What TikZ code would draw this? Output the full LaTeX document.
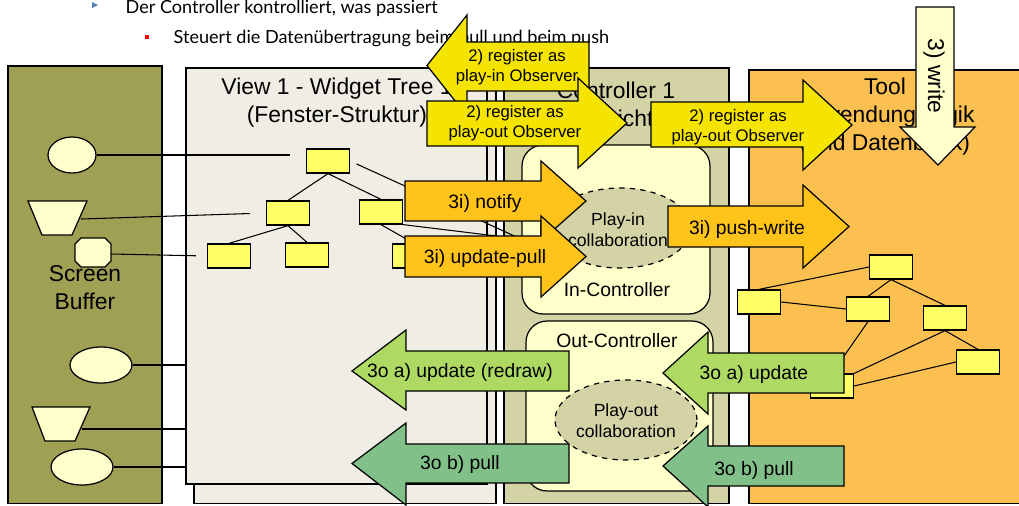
\documentclass[tikz,border=0pt]{standalone}
\usepackage{fontspec}
\setmainfont{Liberation Sans}
\newfontfamily\latofont{Lato}
\usetikzlibrary{shapes.geometric}

\definecolor{screenolive}{RGB}{160,160,85}
\definecolor{viewbeige}{RGB}{240,237,228}
\definecolor{ctrlolive}{RGB}{212,211,166}
\definecolor{paleyellow}{RGB}{255,255,204}
\definecolor{toolorange}{RGB}{251,192,80}
\definecolor{widgetyellow}{RGB}{255,255,102}
\definecolor{regyellow}{RGB}{245,227,0}
\definecolor{pushorange}{RGB}{255,195,26}
\definecolor{updgreen}{RGB}{174,218,100}
\definecolor{pullgreen}{RGB}{130,192,138}
\definecolor{bulletblue}{RGB}{79,129,189}

\begin{document}
\begin{tikzpicture}[x=0.02cm,y=-0.02cm,line width=0.7pt,
    widget/.style={draw,fill=widgetyellow,minimum width=0.86cm,minimum height=0.48cm,inner sep=0pt},
    sbshape/.style={draw,fill=paleyellow,inner sep=0pt},
    collab/.style={draw,dashed,fill=ctrlolive,ellipse,minimum width=2.84cm,minimum height=1.6cm,inner sep=0pt},
    subctrl/.style={draw,fill=paleyellow,rounded corners=0.42cm,inner sep=0pt},
    treeline/.style={line width=0.6pt},
    regarrow/.style={draw,fill=regyellow},
    pusharrow/.style={draw,fill=pushorange},
    updarrow/.style={draw,fill=updgreen},
    pullarrow/.style={draw,fill=pullgreen},
    writearrow/.style={draw,fill=paleyellow},
    titletext/.style={font=\fontsize{13pt}{15.9pt}\selectfont,align=center,inner sep=0pt},
    arrowtext/.style={font=\fontsize{11pt}{13pt}\selectfont,align=center,inner sep=0pt},
    regtext/.style={font=\fontsize{9.5pt}{11.3pt}\selectfont,align=center,inner sep=0pt},
    collabtext/.style={font=\fontsize{10pt}{11.9pt}\selectfont,align=center,inner sep=0pt},
    bullettext/.style={font=\latofont\fontsize{10.3pt}{12pt}\selectfont,anchor=base west,inner sep=0pt}]
\useasboundingbox (0,0) rectangle (1019,505);

% bullets
\fill[bulletblue] (92,2) -- (98,5) -- (92,8) -- cycle; % bullet.1
\node[bullettext] (bulletA) at (125,13) {Der Controller kontrolliert, was passiert};
\fill[red] (145,35) rectangle (149,39); % bullet.2
\node[bullettext] (bulletB) at (173,43) {Steuert die Datenübertragung beim pull und beim push};

% screen buffer
\draw[fill=screenolive] (8,66) rectangle (162,503.5); % Screen
\node[titletext] (scrtitle) at (85,288) {Screen\\Buffer};
\node[sbshape,ellipse,minimum width=0.96cm,minimum height=0.72cm] (scrA) at (72,155) {};
\draw[fill=paleyellow] (28,201) -- (87,201) -- (72,235) -- (42,235) -- cycle; % scrB
\coordinate (scrB) at (81,219);
\draw[fill=paleyellow] (81,238) -- (105,238) -- (111,244) -- (111,261) -- (105,267) -- (81,267) -- (75,261) -- (75,244) -- cycle; % scrC
\coordinate (scrC) at (111,254);
\node[sbshape,ellipse,minimum width=1.24cm,minimum height=0.72cm] (scrD) at (101,365) {};
\draw[fill=paleyellow] (32,407) -- (90,407) -- (75,441) -- (45,441) -- cycle; % scrE
\coordinate (scrE) at (82,429);
\node[sbshape,ellipse,minimum width=1.24cm,minimum height=0.72cm] (scrF) at (82,467) {};

% view panels
\draw[fill=viewbeige] (194,90) rectangle (496,503.5); % View.back
\draw[fill=viewbeige] (186,68) rectangle (487,484); % View.front
\coordinate (viewedge) at (186,0);
\node[titletext] (viewtitle) at (337,103) {View 1 - Widget Tree 1\\(Fenster-Struktur)};
\node[widget] (wroot) at (328,161) {};
\node[widget] (wchildA) at (288,213) {};
\node[widget] (wchildB) at (381,212) {};
\node[widget] (wleafA) at (229,256) {};
\node[widget] (wleafB) at (307,255) {};
\node[widget] (wleafC) at (414,256) {};
\draw[treeline] (wroot.south) -- (wchildA.north);
\draw[treeline] (wroot.south) -- (wchildB.north);
\draw[treeline] (wchildA.south) -- (wleafA.north);
\draw[treeline] (wchildA.south) -- (wleafB.north);
\draw[treeline] (wchildB.south) -- (wleafC.north);

% controller
\draw[fill=ctrlolive] (504,68) rectangle (729,503.5); % Controller
\node[titletext] (ctrltitle) at (616,107) {Controller 1\\(Ansicht)};
\node[subctrl,minimum width=3.76cm,minimum height=3.38cm] (inctrl) at (616,229.5) {};
\node[collab] (playin) at (620,228) {};
\node[collabtext] (playintext) at (618,230) {Play-in\\collaboration};
\node[arrowtext] (inctrltext) at (617,290) {In-Controller};
\node[subctrl,minimum width=3.74cm,minimum height=3.4cm] (outctrl) at (619.5,406) {};
\node[arrowtext] (outctrltext) at (617,341) {Out-Controller};
\node[collab] (playout) at (626,420) {};
\node[collabtext] (playouttext) at (626,421) {Play-out\\collaboration};

% tool
\draw[fill=toolorange] (749,70) rectangle (1040,503.5); % Tool
\node[titletext] (tooltitle) at (885,117) {Tool\\Anwendungslogik\\(und Datenbank)};
\node[widget] (tA) at (891,267) {};
\node[widget] (tB) at (759,302) {};
\node[widget] (tC) at (868,309) {};
\node[widget] (tD) at (945,318) {};
\node[widget] (tE) at (978,362) {};
\node[widget] (tF) at (832,386) {};
\draw[treeline] (tA.west) -- (tB.north);
\draw[treeline] (tB.east) -- (tC.west);
\draw[treeline] (tA.south) -- (tC.north);
\draw[treeline] (tA.south) -- (tD.north);
\draw[treeline] (tC.south) -- (tF.north);
\draw[treeline] (tD.south) -- (tE.north);
\draw[treeline] (tD.south) -- (tF.north east);
\draw[treeline] (tE.west) -- (tF.east);

% screen to widgets
\draw[treeline,shorten >=0.32cm] (scrA.east) -- (scrA.east -| wroot.west);
\draw[treeline,shorten >=0.32cm] (scrB) -- (wchildA.west);
\draw[treeline,shorten >=0.22cm] (scrC) -- (wleafA.west);
\draw[treeline] (scrD.east) -- (scrD.east -| viewedge);
\draw[treeline] (scrE) -- (scrE -| viewedge);
\draw[treeline] (scrF.east) -- (scrF.east -| viewedge);
\coordinate (inlink) at (521,239);
\draw[treeline,shorten <=0.14cm] (wroot.east) -- (inlink);
\draw[treeline] (wchildB.south east) -- (inlink);

% 2) register
\draw[regarrow] (589,42) -- (589,91) -- (467,91) -- (467,116) -- (427,65.5) -- (467,15) -- (467,42) -- cycle; % regin
\node[regtext] (regin) at (517,67) {2) register as\\play-in Observer};
\draw[regarrow] (427,101) -- (578,101) -- (578,78) -- (627,123) -- (578,168) -- (578,146) -- (427,146) -- cycle; % regoutA
\node[regtext] (regoutA) at (515,123) {2) register as\\play-out Observer};
\draw[regarrow] (651,102) -- (803,102) -- (803,80) -- (852,125) -- (803,170) -- (803,147) -- (651,147) -- cycle; % regoutB
\node[regtext] (regoutB) at (738,127) {2) register as\\play-out Observer};

% 3) write
\draw[writearrow] (916,7) -- (954,7) -- (954,127) -- (975,127) -- (938,165) -- (900,127) -- (916,127) -- cycle; % write
\node[titletext,rotate=-90] (write) at (934,76) {3) write};

% 3i)
\draw[pusharrow] (405,181) -- (541,181) -- (541,161) -- (586,201) -- (541,241) -- (541,221) -- (405,221) -- cycle; % notify
\node[arrowtext] (notify) at (485,203) {3i) notify};
\draw[pusharrow] (405,236) -- (541,236) -- (541,216) -- (586,256.5) -- (541,297) -- (541,277) -- (405,277) -- cycle; % updpull
\node[arrowtext] (updpull) at (485,258) {3i) update-pull};
\draw[pusharrow] (668,206) -- (803,206) -- (803,185) -- (849,226.5) -- (803,268) -- (803,247) -- (668,247) -- cycle; % pushwrite
\node[arrowtext] (pushwrite) at (747,229) {3i) push-write};

% 3o)
\draw[updarrow] (569,351) -- (569,391) -- (406,391) -- (406,410) -- (352,371) -- (406,330) -- (406,351) -- cycle; % redraw
\node[arrowtext] (redraw) at (460,372) {3o a) update (redraw)};
\draw[updarrow] (844,353) -- (844,393) -- (708,393) -- (708,414) -- (663,373) -- (708,332) -- (708,353) -- cycle; % update
\node[arrowtext] (update) at (754,374) {3o a) update};
\draw[pullarrow] (569,444) -- (569,483) -- (406,483) -- (406,505) -- (352,463.5) -- (406,423) -- (406,444) -- cycle; % pullA
\node[arrowtext] (pullA) at (460,464) {3o b) pull};
\draw[pullarrow] (844,446) -- (844,486) -- (708,486) -- (708,507) -- (663,466) -- (708,426) -- (708,446) -- cycle; % pullB
\node[arrowtext] (pullB) at (754,470) {3o b) pull};

\end{tikzpicture}
\end{document}
